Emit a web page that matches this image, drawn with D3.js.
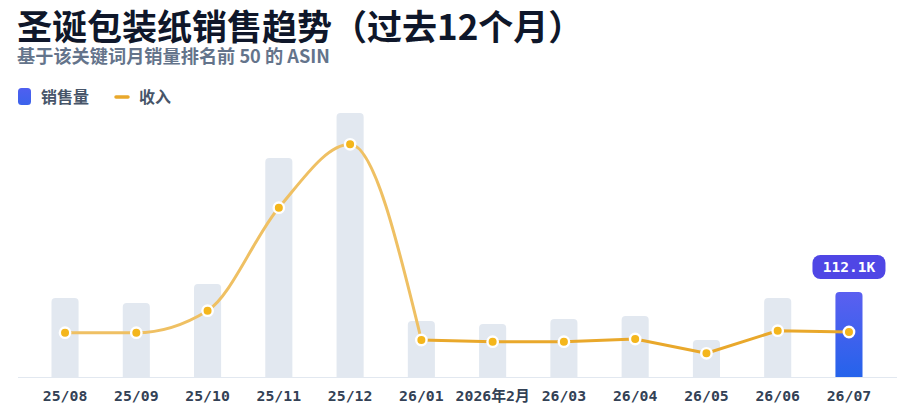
<!DOCTYPE html>
<html><head><meta charset="utf-8">
<script src="https://cdn.jsdelivr.net/npm/d3@7"></script>
<style>
html,body{margin:0;padding:0;background:#fff;}
svg{display:block;}
</style></head>
<body>
<svg id="chart" width="918" height="414"></svg>
<script>
const months = ["25/08","25/09","25/10","25/11","25/12","26/01","2026年2月","26/03","26/04","26/05","26/06","26/07"];
const salesK = [104.2, 97.6, 122.6, 288.8, 348.2, 73.9, 69.9, 76.5, 80.4, 48.8, 104.2, 112.1];
const revenueK = [876, 876, 1312, 3349, 4603, 732, 698, 698, 752, 469, 916, 890];
const highlightIndex = 11;
const smoothUntil = 5;

const svg = d3.select("#chart");
const cjk = "'Noto Sans CJK SC','Noto Sans',sans-serif";
const mono = "'DejaVu Sans Mono','Noto Sans CJK SC',monospace";

const x = d3.scaleBand().domain(months).range([29.4, 884.6]).paddingInner(0.62).paddingOuter(0.31);
const base = 377;
const ySales = d3.scaleLinear().domain([0, 400]).range([base, 73.7]);
const yRev = d3.scaleLinear().domain([0, 6000]).range([base, 73.7]);

const defs = svg.append("defs");
const g1 = defs.append("linearGradient").attr("id","hb").attr("x1",0).attr("y1",0).attr("x2",0).attr("y2",1);
g1.append("stop").attr("offset","0%").attr("stop-color","#5b5ff0");
g1.append("stop").attr("offset","100%").attr("stop-color","#2563eb");
const g2 = defs.append("linearGradient").attr("id","lg").attr("x1",0).attr("y1",0).attr("x2",0).attr("y2",1);
g2.append("stop").attr("offset","0%").attr("stop-color","#4f5ff0");
g2.append("stop").attr("offset","100%").attr("stop-color","#3b63eb");

// Title
svg.append("text").attr("x",17).attr("y",40).text("圣诞包装纸销售趋势（过去12个月）")
  .attr("font-family",cjk).attr("font-weight",700).attr("font-size",35).attr("fill","#0f172a");
svg.append("text").attr("x",17).attr("y",63).text("基于该关键词月销量排名前 50 的 ASIN")
  .attr("font-family",cjk).attr("font-weight",700).attr("font-size",18.2).attr("fill","#64748b");

// Legend
svg.append("rect").attr("x",18).attr("y",88).attr("width",13).attr("height",17).attr("rx",3.5).attr("fill","url(#lg)");
svg.append("text").attr("x",41).attr("y",103).text("销售量").attr("font-family",cjk).attr("font-weight",700)
  .attr("font-size",16).attr("fill","#475569");
svg.append("line").attr("x1",116).attr("x2",128).attr("y1",97).attr("y2",97).attr("stroke","#e9a82b")
  .attr("stroke-width",3.5).attr("stroke-linecap","round");
svg.append("text").attr("x",139).attr("y",103).text("收入").attr("font-family",cjk).attr("font-weight",700)
  .attr("font-size",16).attr("fill","#475569");

// Axis line
svg.append("line").attr("x1",18).attr("x2",897).attr("y1",base+0.5).attr("y2",base+0.5)
  .attr("stroke","#e2e8f0").attr("stroke-width",1.2);

// Bars
function topRounded(x0, y0, w, h, r){
  r = Math.min(r, h, w/2);
  return `M${x0},${y0+h}V${y0+r}Q${x0},${y0} ${x0+r},${y0}H${x0+w-r}Q${x0+w},${y0} ${x0+w},${y0+r}V${y0+h}Z`;
}
svg.append("g").selectAll("path").data(months).join("path")
  .attr("d",(m,i)=>topRounded(x(m), ySales(salesK[i]), x.bandwidth(), base - ySales(salesK[i]), 4))
  .attr("fill",(m,i)=> i===highlightIndex ? "url(#hb)" : "#e2e8f0");

// Revenue line
const pts = months.map((m,i)=>[x(m)+x.bandwidth()/2, yRev(revenueK[i])]);
const smoothLine = d3.line().curve(d3.curveMonotoneX);
const straightLine = d3.line().curve(d3.curveLinear);
svg.append("path").attr("d", smoothLine(pts.slice(0, smoothUntil+1)))
  .attr("fill","none").attr("stroke","#efc063").attr("stroke-width",3).attr("stroke-linecap","round");
svg.append("path").attr("d", straightLine(pts.slice(smoothUntil)))
  .attr("fill","none").attr("stroke","#e9a82b").attr("stroke-width",3).attr("stroke-linecap","round").attr("stroke-linejoin","round");

svg.append("g").selectAll("circle").data(pts).join("circle")
  .attr("cx",d=>d[0]).attr("cy",d=>d[1]).attr("r",5.2)
  .attr("fill","#f4b61c").attr("stroke","#fff").attr("stroke-width",2.4);

// X labels
svg.append("g").selectAll("text").data(months).join("text")
  .attr("x",m=>x(m)+x.bandwidth()/2).attr("y",401).attr("text-anchor","middle")
  .attr("font-family",mono).attr("font-weight",700).attr("font-size",14.8).attr("fill","#334155")
  .text(m=>m);

// Highlight pill
const hm = months[highlightIndex];
const hx = x(hm)+x.bandwidth()/2;
const hy = ySales(salesK[highlightIndex]);
const pw = 73, ph = 24;
svg.append("rect").attr("x",hx-pw/2).attr("y",hy-13-ph).attr("width",pw).attr("height",ph).attr("rx",8)
  .attr("fill","#4f46e5");
svg.append("text").attr("x",hx).attr("y",hy-13-ph/2+5).attr("text-anchor","middle")
  .attr("font-family",mono).attr("font-weight",700).attr("font-size",14.5).attr("fill","#fff")
  .text(salesK[highlightIndex].toFixed(1)+"K");
</script>
</body></html>
